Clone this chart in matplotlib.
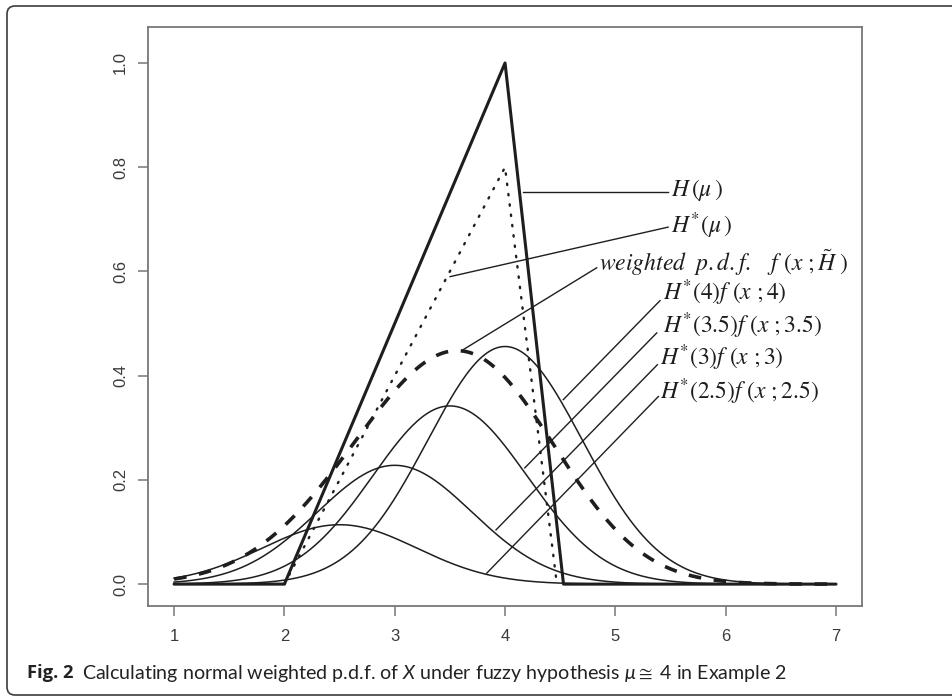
import numpy as np
import matplotlib
matplotlib.use('Agg')
import matplotlib.pyplot as plt
from matplotlib.patches import FancyBboxPatch
from matplotlib.transforms import IdentityTransform

# data
mu_means = [2.5, 3.0, 3.5, 4.0]          # centres of the weighted normal curves
h_star_at_mu = [0.2, 0.4, 0.6, 0.8]      # H*(mu) weights
sd = 0.7                                 # common sd of f(x; mu)

H_x = [1.0, 2.0, 4.0, 4.53, 7.0]         # membership H(mu)
H_y = [0.0, 0.0, 1.0, 0.0, 0.0]
Hs_x = [2.0, 4.0, 4.47]                  # H*(mu)
Hs_y = [0.0, 0.8, 0.0]

x_ticks = [1, 2, 3, 4, 5, 6, 7]
y_ticks = [0.0, 0.2, 0.4, 0.6, 0.8, 1.0]

plt.rcParams['font.family'] = ['Liberation Sans', 'DejaVu Sans']
plt.rcParams['mathtext.fontset'] = 'custom'
plt.rcParams['mathtext.rm'] = 'Lato'
plt.rcParams['mathtext.it'] = 'Lato:italic'
plt.rcParams['mathtext.bf'] = 'Lato:bold'

fig = plt.figure(figsize=(9.52, 6.98), dpi=100)
ax = fig.add_axes([0.1555, 0.1318, 0.75, 0.8295])

x = np.linspace(1, 7, 601)


def npdf(x, m, s):
    return np.exp(-0.5 * ((x - m) / s) ** 2) / (s * np.sqrt(2 * np.pi))


ink = '#1e1e1e'
for m, w in zip(mu_means, h_star_at_mu):
    ax.plot(x, w * npdf(x, m, sd), color=ink, lw=1.1)

# weighted p.d.f.: H* weighted mixture of f(x; mu)
mu_grid = np.linspace(Hs_x[0], Hs_x[-1], 400)
wts = np.interp(mu_grid, Hs_x, Hs_y)
weighted = (wts[:, None] * npdf(x[None, :], mu_grid[:, None], sd)).sum(0) / wts.sum()
ax.plot(x, weighted, color=ink, lw=2.6, ls=(0, (3.5, 3.5)))

ax.plot(Hs_x, Hs_y, color=ink, lw=1.7, ls=(0, (0.6, 3.8)), dash_capstyle='round')
ax.plot(H_x, H_y, color=ink, lw=2.2, solid_capstyle='round')

ax.set_xlim(0.764, 7.236)
ax.set_ylim(-0.042, 1.069)
ax.set_xticks(x_ticks)
ax.set_yticks(y_ticks)
ax.set_xticklabels([str(t) for t in x_ticks])
ax.set_yticklabels(['%.1f' % t for t in y_ticks], rotation=90, va='center')
spine_c = '#777777'
for sp in ax.spines.values():
    sp.set_color(spine_c)
    sp.set_linewidth(1.3)
ax.tick_params(axis='both', length=7.5, width=1.1, color=spine_c,
               labelsize=12, labelcolor='#3a3a3a')
ax.tick_params(axis='x', pad=9)
ax.tick_params(axis='y', pad=7)

# labels with leader lines
labels = [
    (r'$H\,(\mu\,)$', (4.159, 0.752), (5.478, 0.752), (5.505, 0.757)),
    (r'$H^{*}(\mu\,)$', (3.502, 0.590), (5.478, 0.685), (5.505, 0.688)),
    (r'$weighted\ \ p.d.f.\ \ \ f\ (x\ ;\tilde{H}\ )$', (3.622, 0.450), (4.831, 0.607), (4.852, 0.617)),
    (r'$H^{*}(4)f\ (x\ ;4)$', (4.528, 0.354), (5.405, 0.544), (5.432, 0.559)),
    (r'$H^{*}(3.5)f\ (x\ ;3.5)$', (4.179, 0.223), (5.375, 0.482), (5.432, 0.496)),
    (r'$H^{*}(3)f\ (x\ ;3)$', (3.918, 0.104), (5.381, 0.421), (5.405, 0.435)),
    (r'$H^{*}(2.5)f\ (x\ ;2.5)$', (3.834, 0.021), (5.390, 0.360), (5.405, 0.369)),
]
for txt, p0, p1, pt in labels:
    ax.plot([p0[0], p1[0]], [p0[1], p1[1]], color=ink, lw=1.0)
    ax.text(pt[0], pt[1], txt, ha='left', va='center', fontsize=17,
            color=ink, math_fontfamily='stix')

# caption and frame
cap_y = 1 - 673 / 698
fig.text(27 / 952, cap_y, 'Fig. 2', fontsize=13.2, fontweight='bold',
         family=['Open Sans', 'DejaVu Sans'], color='#222222', ha='left', va='center')
fig.text(82 / 952, cap_y,
         r'Calculating normal weighted p.d.f. of $\mathit{X}$ under fuzzy hypothesis $\mu\cong$ 4 in Example 2',
         fontsize=14.1, family=['Lato', 'DejaVu Sans'], color='#222222',
         ha='left', va='center')
frame = FancyBboxPatch((7, 3), 990, 689, boxstyle='round,pad=0,rounding_size=8',
                       transform=IdentityTransform(), fill=False,
                       edgecolor='#3c3c3c', lw=1.2)
fig.patches.append(frame)

fig.savefig('out.png', dpi=100)
